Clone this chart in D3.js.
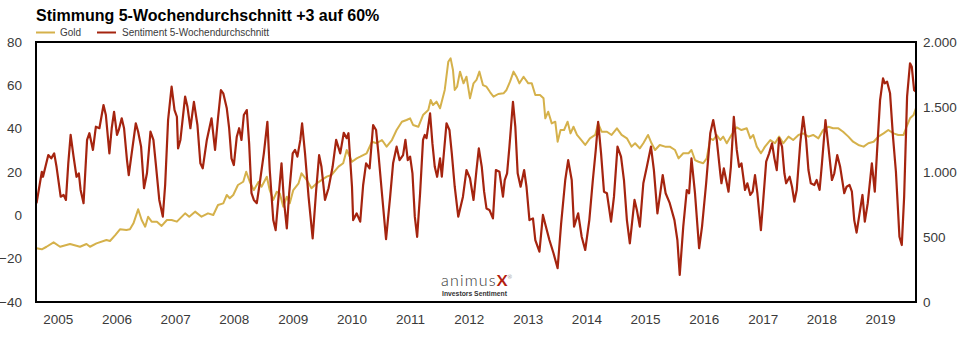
<!DOCTYPE html>
<html>
<head>
<meta charset="utf-8">
<script src="https://cdn.jsdelivr.net/npm/d3@7"></script>
<style>
  html, body { margin: 0; padding: 0; background: #fff; }
  svg { display: block; font-family: "Liberation Sans", Arial, Helvetica, sans-serif; }
</style>
</head>
<body>
<svg id="chart" width="971" height="340"></svg>
<script>
// ---------------- DATA ----------------
const titleText = "Stimmung 5-Wochendurchschnitt +3 auf 60%";
const seriesNames = ["Gold", "Sentiment 5-Wochendurchschnitt"];
const yearTicks = [2005, 2006, 2007, 2008, 2009, 2010, 2011, 2012, 2013, 2014, 2015, 2016, 2017, 2018, 2019];
const leftTicks = [-40, -20, 0, 20, 40, 60, 80];
const rightTicks = [0, 500, 1000, 1500, 2000];
const rightTickLabels = ["0", "500", "1.000", "1.500", "2.000"];
const timeSpan = [2004.631, 2019.612]; // decimal years shown

// Sentiment 5-week average [decimal year, %]
const sentiment = [
[2004.64,5.6],[2004.73,20.1],[2004.75,17.8],[2004.84,27.8],[2004.89,26.3],[2004.94,28.6],[2004.98,22.4],
[2005.05,8.6],[2005.10,9.4],[2005.14,7.1],[2005.18,24],[2005.22,37.1],[2005.27,27.1],[2005.32,17.8],[2005.36,19.4],
[2005.39,11.7],[2005.44,5.6],[2005.50,34.8],[2005.54,37.9],[2005.60,30.2],[2005.65,40.9],[2005.71,40.2],[2005.78,50.9],
[2005.82,46.3],[2005.88,28.6],[2005.92,40.2],[2005.96,47.8],[2006.01,37.1],[2006.04,39.4],[2006.09,44.8],[2006.13,40.2],
[2006.18,25.5],[2006.21,18.6],[2006.26,28.6],[2006.33,42.5],[2006.37,38.6],[2006.42,31.7],[2006.47,12.5],[2006.52,19.4],
[2006.58,38.6],[2006.63,34.8],[2006.67,24],[2006.73,7.1],[2006.79,-0.6],[2006.83,14],[2006.88,44],[2006.94,59.4],
[2006.99,48.6],[2007.03,45.5],[2007.05,30.9],[2007.09,34.8],[2007.17,54.8],[2007.21,50.1],[2007.26,40.2],[2007.32,52.4],
[2007.38,41.7],[2007.43,24],[2007.47,21.7],[2007.54,34.8],[2007.62,44.8],[2007.68,30.2],[2007.73,44.8],[2007.78,57.8],
[2007.82,56.3],[2007.88,49.4],[2007.92,40.2],[2007.96,26.3],[2008.00,23.2],[2008.05,36.3],[2008.09,40.2],[2008.13,34.8],
[2008.17,46.3],[2008.22,48.6],[2008.26,33.2],[2008.30,10.2],[2008.34,7.1],[2008.39,5.6],[2008.44,14.8],[2008.51,28.6],
[2008.57,43.2],[2008.61,20.9],[2008.67,-2.2],[2008.71,-6.8],[2008.76,8.6],[2008.81,24],[2008.85,7.1],[2008.90,-6],
[2008.94,10.2],[2009.00,28.6],[2009.04,30.2],[2009.08,27.1],[2009.13,34.8],[2009.16,42.5],[2009.21,28.6],[2009.27,8.6],
[2009.34,-10.6],[2009.40,11.7],[2009.45,27.8],[2009.49,22.4],[2009.55,7.1],[2009.61,12.5],[2009.68,22.4],[2009.74,34.8],
[2009.81,28.6],[2009.87,38.1],[2009.92,35.6],[2009.95,37.9],[2010.01,13.2],[2010.03,-2.2],[2010.09,0.9],[2010.15,-2.9],
[2010.20,14],[2010.25,24],[2010.31,21.7],[2010.37,41.7],[2010.42,39.4],[2010.46,28.6],[2010.52,10.2],[2010.59,-11],
[2010.66,8.6],[2010.71,24],[2010.77,31.7],[2010.82,25.5],[2010.88,27.8],[2010.92,34.8],[2010.96,25.5],[2011.00,27.1],
[2011.04,19.4],[2011.08,-0.6],[2011.12,-9.9],[2011.17,10.2],[2011.22,34.8],[2011.25,37.1],[2011.28,35.6],[2011.34,47.1],
[2011.38,33.2],[2011.42,22.4],[2011.46,17.8],[2011.51,26.3],[2011.54,17.8],[2011.62,42.5],[2011.67,39.4],[2011.71,28.6],
[2011.76,13.2],[2011.82,-0.6],[2011.90,8.6],[2011.96,20.9],[2012.02,17.1],[2012.08,7.1],[2012.13,20.9],[2012.17,30.9],
[2012.22,22.4],[2012.26,10.9],[2012.30,3.2],[2012.35,2.5],[2012.41,-1.4],[2012.46,20.9],[2012.52,20.1],[2012.58,8.6],
[2012.61,16.3],[2012.65,19.4],[2012.69,31.7],[2012.75,52.4],[2012.79,40.9],[2012.83,19.4],[2012.88,13.2],[2012.94,20.9],
[2012.98,13.2],[2013.03,-2.2],[2013.09,-1.4],[2013.13,-11.4],[2013.20,-16.8],[2013.26,0.2],[2013.31,-5.2],[2013.37,-11.4],
[2013.44,-17.5],[2013.51,-24.4],[2013.57,-3.7],[2013.64,16.3],[2013.69,25.5],[2013.75,16.3],[2013.79,-5.2],[2013.86,0.9],
[2013.92,-9.9],[2013.98,-16],[2014.05,-2.2],[2014.11,16.3],[2014.16,30.2],[2014.20,43.2],[2014.25,28.6],[2014.30,10.9],
[2014.35,10.2],[2014.42,-2.9],[2014.47,8.6],[2014.53,31.7],[2014.59,27.1],[2014.64,16.3],[2014.69,-2.2],[2014.74,-12.9],
[2014.82,7.1],[2014.86,2.5],[2014.91,-5.2],[2014.97,14.8],[2015.03,22.4],[2015.10,31.7],[2015.15,20.9],[2015.21,0.9],
[2015.25,8.6],[2015.30,18.6],[2015.35,10.2],[2015.42,5.6],[2015.50,-2.2],[2015.55,-11.4],[2015.59,-27.5],[2015.65,-5.2],
[2015.71,11.7],[2015.75,10.2],[2015.79,26.3],[2015.85,10.2],[2015.92,-15.2],[2015.97,-5.2],[2016.04,14.8],[2016.11,37.9],
[2016.16,44],[2016.22,34.8],[2016.28,19.4],[2016.30,14.8],[2016.34,21.7],[2016.42,10.9],[2016.46,22.4],[2016.51,45.5],
[2016.56,30.2],[2016.60,22.4],[2016.64,24],[2016.70,11.7],[2016.74,14.8],[2016.79,9.4],[2016.83,10.9],[2016.87,18.6],
[2016.91,10.2],[2016.97,-6.8],[2017.01,7.1],[2017.06,24.8],[2017.11,28.6],[2017.16,33.2],[2017.20,26.3],[2017.24,20.9],
[2017.28,35.6],[2017.33,31.7],[2017.37,19.4],[2017.40,14.8],[2017.46,17.8],[2017.50,13.2],[2017.54,6.3],[2017.58,11.7],
[2017.64,33.2],[2017.69,45.5],[2017.74,34.8],[2017.78,20.9],[2017.82,14.8],[2017.88,14],[2017.92,16.3],[2017.97,11.7],
[2018.01,24],[2018.07,44],[2018.12,31.7],[2018.18,16.3],[2018.22,19.4],[2018.27,27.8],[2018.32,22.4],[2018.39,10.2],
[2018.43,13.2],[2018.48,14],[2018.52,10.9],[2018.56,-2.2],[2018.60,-8],[2018.66,2.5],[2018.70,9.4],[2018.74,-2.9],
[2018.79,5.6],[2018.86,24],[2018.91,10.9],[2018.95,30.2],[2019.00,53.2],[2019.05,63.2],[2019.08,60.9],[2019.12,61.7],
[2019.17,56.3],[2019.22,36.3],[2019.27,20.1],[2019.33,-9.9],[2019.37,-13.7],[2019.41,8.6],[2019.46,54.8],[2019.51,70.2],
[2019.54,68.6],[2019.58,57.8],[2019.61,57.1]
];

// Gold price in USD [decimal year, price]
const gold = [
[2004.64,413],[2004.73,405],[2004.81,425],[2004.93,459],[2005.04,425],[2005.21,446],[2005.38,425],[2005.49,446],
[2005.55,425],[2005.66,451],[2005.83,477],[2005.89,469],[2005.98,515],[2006.06,559],[2006.17,554],[2006.23,559],
[2006.29,605],[2006.37,713],[2006.43,631],[2006.49,579],[2006.54,656],[2006.60,618],[2006.69,618],[2006.77,585],
[2006.86,631],[2006.94,631],[2007.03,618],[2007.17,682],[2007.24,656],[2007.34,695],[2007.45,656],[2007.56,682],
[2007.65,669],[2007.73,746],[2007.82,759],[2007.88,823],[2007.93,798],[2007.99,823],[2008.07,900],[2008.16,925],
[2008.21,1002],[2008.27,925],[2008.34,861],[2008.42,925],[2008.47,887],[2008.56,964],[2008.61,860],[2008.67,785],
[2008.73,848],[2008.78,836],[2008.84,733],[2008.90,810],[2008.95,759],[2009.01,861],[2009.10,913],[2009.15,990],
[2009.24,938],[2009.32,875],[2009.41,913],[2009.49,938],[2009.58,964],[2009.66,977],[2009.78,1041],[2009.86,1067],
[2009.92,1169],[2010.01,1079],[2010.09,1105],[2010.15,1118],[2010.26,1144],[2010.35,1233],[2010.43,1221],[2010.52,1246],
[2010.60,1195],[2010.69,1246],[2010.77,1323],[2010.86,1387],[2010.94,1400],[2011.00,1413],[2011.05,1362],[2011.14,1348],
[2011.22,1438],[2011.31,1477],[2011.35,1554],[2011.39,1515],[2011.45,1541],[2011.51,1490],[2011.59,1631],[2011.65,1848],
[2011.69,1874],[2011.73,1785],[2011.76,1631],[2011.80,1656],[2011.85,1772],[2011.91,1682],[2011.96,1733],[2012.02,1567],
[2012.08,1682],[2012.13,1708],[2012.18,1772],[2012.24,1669],[2012.30,1656],[2012.36,1615],[2012.42,1579],[2012.50,1600],
[2012.59,1605],[2012.64,1631],[2012.70,1695],[2012.76,1772],[2012.81,1733],[2012.86,1682],[2012.93,1733],[2013.01,1682],
[2013.07,1682],[2013.13,1592],[2013.21,1592],[2013.27,1567],[2013.30,1413],[2013.35,1464],[2013.41,1374],[2013.47,1387],
[2013.51,1233],[2013.56,1323],[2013.62,1323],[2013.68,1387],[2013.73,1297],[2013.78,1348],[2013.84,1285],[2013.89,1259],
[2013.98,1208],[2014.06,1259],[2014.15,1285],[2014.20,1374],[2014.26,1310],[2014.35,1310],[2014.43,1285],[2014.52,1336],
[2014.60,1285],[2014.69,1259],[2014.77,1195],[2014.83,1221],[2014.91,1182],[2014.97,1221],[2015.05,1285],[2015.11,1221],
[2015.17,1169],[2015.25,1208],[2015.34,1195],[2015.42,1195],[2015.51,1169],[2015.57,1105],[2015.65,1144],[2015.74,1144],
[2015.79,1169],[2015.85,1092],[2015.91,1079],[2015.99,1067],[2016.05,1105],[2016.11,1259],[2016.16,1246],[2016.22,1285],
[2016.28,1246],[2016.33,1272],[2016.39,1221],[2016.47,1285],[2016.56,1344],[2016.64,1323],[2016.73,1336],[2016.79,1259],
[2016.84,1285],[2016.90,1195],[2016.97,1144],[2017.04,1195],[2017.13,1246],[2017.21,1221],[2017.28,1272],[2017.35,1221],
[2017.44,1272],[2017.52,1246],[2017.61,1285],[2017.69,1297],[2017.78,1272],[2017.86,1285],[2017.95,1259],[2018.03,1323],
[2018.12,1348],[2018.20,1336],[2018.29,1336],[2018.37,1310],[2018.46,1272],[2018.54,1233],[2018.63,1208],[2018.72,1195],
[2018.80,1221],[2018.89,1233],[2018.97,1272],[2019.06,1297],[2019.14,1323],[2019.23,1297],[2019.31,1285],[2019.40,1285],
[2019.45,1348],[2019.51,1413],[2019.57,1438],[2019.61,1490]
];

// ---------------- DRAW ----------------
const colors = { gold: "#D5B14B", sentiment: "#A5240F", text: "#3a3a3a" };
const W = 971, H = 340;
const M = { left: 36, right: 55, top: 42, bottom: 38 };
const innerW = W - M.left - M.right, innerH = H - M.top - M.bottom;

function toDate(y) {
  const yr = Math.floor(y);
  const s = Date.UTC(yr, 0, 1), e = Date.UTC(yr + 1, 0, 1);
  return new Date(s + (y - yr) * (e - s));
}

const svg = d3.select("#chart");

const x = d3.scaleUtc().domain(timeSpan.map(toDate)).range([M.left, M.left + innerW]);
const yL = d3.scaleLinear().domain([-40, 80]).range([M.top + innerH, M.top]);
const yR = d3.scaleLinear().domain([0, 2000]).range([M.top + innerH, M.top]);

// Title
svg.append("text").attr("x", 36).attr("y", 21)
  .attr("font-size", 16).attr("font-weight", "bold").attr("fill", "#000")
  .text(titleText);

// Legend
const legend = svg.append("g").attr("font-size", 10).attr("fill", colors.text);
[[36, 60, colors.gold, seriesNames[0]], [97, 122, colors.sentiment, seriesNames[1]]].forEach(([lx, tx, c, t]) => {
  legend.append("line").attr("x1", lx).attr("x2", lx + 19).attr("y1", 32.5).attr("y2", 32.5)
    .attr("stroke", c).attr("stroke-width", 2);
  legend.append("text").attr("x", tx).attr("y", 36).text(t);
});

// Axes
const axisFont = 13.5;
const xAxis = svg.append("g").attr("transform", `translate(0,${M.top + innerH})`)
  .call(d3.axisBottom(x).tickValues(yearTicks.map(toDate)).tickSize(0).tickPadding(12)
    .tickFormat(d => d.getUTCFullYear()));
const yAxisL = svg.append("g").attr("transform", `translate(${M.left},0)`)
  .call(d3.axisLeft(yL).tickValues(leftTicks).tickSize(0).tickPadding(14));
const yAxisR = svg.append("g").attr("transform", `translate(${M.left + innerW},0)`)
  .call(d3.axisRight(yR).tickValues(rightTicks).tickSize(0).tickPadding(7)
    .tickFormat((d, i) => rightTickLabels[i]));
[xAxis, yAxisL, yAxisR].forEach(g => {
  g.select(".domain").remove();
  g.selectAll("text").attr("font-size", axisFont).attr("fill", colors.text)
    .attr("font-family", '"Liberation Sans", Arial, sans-serif');
});

// Logo
const logo = svg.append("g");
const lt = logo.append("text").attr("x", 441).attr("y", 286)
  .attr("font-family", "Lato, 'Open Sans', sans-serif").attr("font-weight", 300)
  .attr("font-size", 16).attr("fill", "#333");
lt.append("tspan").attr("letter-spacing", 1.2).text("animus");
lt.append("tspan").attr("fill", "#B3200F").attr("font-weight", "bold").text("X");
lt.append("tspan").attr("font-size", 5.5).attr("dy", -7).attr("fill", "#333").text("®");
logo.append("text").attr("x", 442).attr("y", 295.5)
  .attr("font-size", 6.8).attr("font-weight", "bold").attr("fill", "#333").text("Investors Sentiment");

// Lines
const clip = svg.append("clipPath").attr("id", "plotclip").append("rect")
  .attr("x", M.left).attr("y", M.top).attr("width", innerW).attr("height", innerH);
const plot = svg.append("g").attr("clip-path", "url(#plotclip)");

plot.append("path").datum(gold)
  .attr("fill", "none").attr("stroke", colors.gold).attr("stroke-width", 2)
  .attr("stroke-linejoin", "round")
  .attr("d", d3.line().x(d => x(toDate(d[0]))).y(d => yR(d[1])));

plot.append("path").datum(sentiment)
  .attr("fill", "none").attr("stroke", colors.sentiment).attr("stroke-width", 2.2)
  .attr("stroke-linejoin", "round")
  .attr("d", d3.line().x(d => x(toDate(d[0]))).y(d => yL(d[1])));

// Frame
svg.append("rect").attr("x", M.left).attr("y", M.top).attr("width", innerW).attr("height", innerH)
  .attr("fill", "none").attr("stroke", "#000").attr("stroke-width", 2);
</script>
</body>
</html>
